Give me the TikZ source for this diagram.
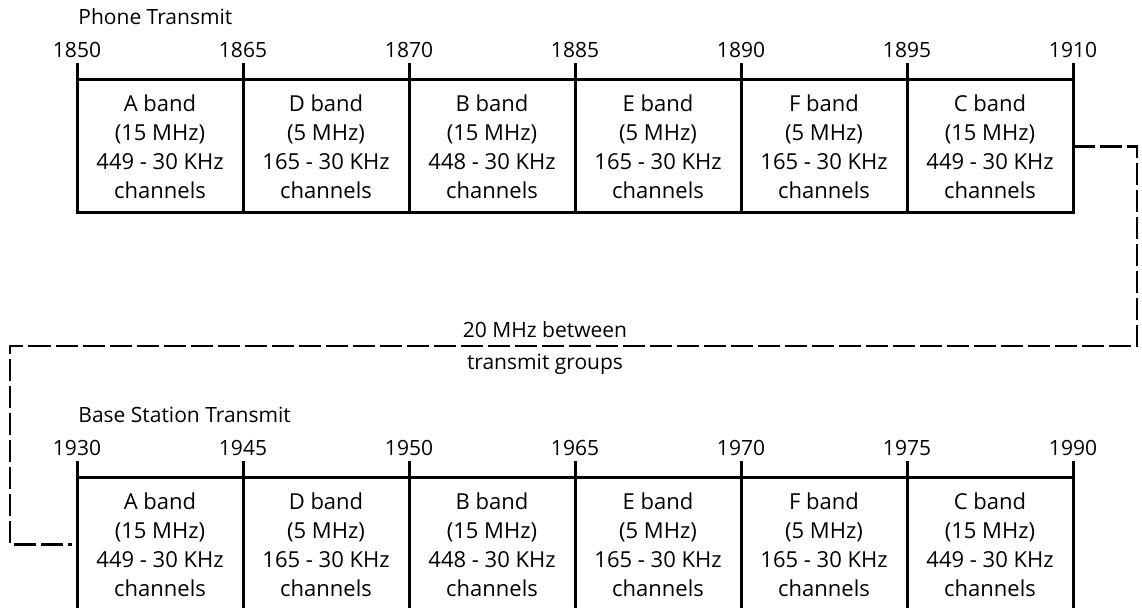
\documentclass[tikz,border=0pt]{standalone}
\usepackage{fontspec}
\setmainfont{Open Sans}
\usetikzlibrary{positioning}

\begin{document}
\begin{tikzpicture}[
x=0.5pt, y=-0.5pt,
font=\fontsize{10.5}{14.5}\selectfont,
band/.style={draw, line width=1.5pt, outer sep=0pt, inner sep=0pt, align=center, minimum width=83pt, minimum height=66.5pt, font=\fontsize{11}{14.5}\selectfont},
rule/.style={line width=1.5pt},
year/.style={inner sep=2pt, anchor=south},
title/.style={inner sep=0pt, anchor=west},
link/.style={line width=1.25pt, dash pattern=on 11pt off 2.5pt}
]
\useasboundingbox (0,0) rectangle (1142,608);

% phone transmit
\node[title] (ptitle) at (78,17) {Phone Transmit};
\node[band] (pA) at (160,146.5) {A band\\(15 MHz)\\449 - 30 KHz\\channels};
\node[band, right=0pt of pA] (pD) {D band\\(5 MHz)\\165 - 30 KHz\\channels};
\node[band, right=0pt of pD] (pB) {B band\\(15 MHz)\\448 - 30 KHz\\channels};
\node[band, right=0pt of pB] (pE) {E band\\(5 MHz)\\165 - 30 KHz\\channels};
\node[band, right=0pt of pE] (pF) {F band\\(5 MHz)\\165 - 30 KHz\\channels};
\node[band, right=0pt of pF] (pC) {C band\\(15 MHz)\\449 - 30 KHz\\channels};

\foreach \b/\yr in {pA/1850,pD/1865,pB/1870,pE/1885,pF/1890,pC/1895}
  \draw[rule] (\b.north west) -- ++(0,-17) node[year] (y\yr) {\yr};
\draw[rule] (pC.north east) -- ++(0,-17) node[year] (y1910) {1910};

% base station transmit
\node[title] (btitle) at (78,415) {Base Station Transmit};
\node[band] (bA) at (160,544.5) {A band\\(15 MHz)\\449 - 30 KHz\\channels};
\node[band, right=0pt of bA] (bD) {D band\\(5 MHz)\\165 - 30 KHz\\channels};
\node[band, right=0pt of bD] (bB) {B band\\(15 MHz)\\448 - 30 KHz\\channels};
\node[band, right=0pt of bB] (bE) {E band\\(5 MHz)\\165 - 30 KHz\\channels};
\node[band, right=0pt of bE] (bF) {F band\\(5 MHz)\\165 - 30 KHz\\channels};
\node[band, right=0pt of bF] (bC) {C band\\(15 MHz)\\449 - 30 KHz\\channels};

\foreach \b/\yr in {bA/1930,bD/1945,bB/1950,bE/1965,bF/1970,bC/1975}
  \draw[rule] (\b.north west) -- ++(0,-17) node[year] (y\yr) {\yr};
\draw[rule] (bC.north east) -- ++(0,-17) node[year] (y1990) {1990};

% gap between groups
\coordinate (gapR) at (1137,346);
\coordinate (gapL) at (10,346);
\node (gtop) at (545,330) {20 MHz between};
\node (gbot) at (545,364) {transmit groups};
\draw[link, shorten >=2.5pt] (pC.east) -| (gapR) -- (gapL) |- (bA.west);
\end{tikzpicture}
\end{document}
